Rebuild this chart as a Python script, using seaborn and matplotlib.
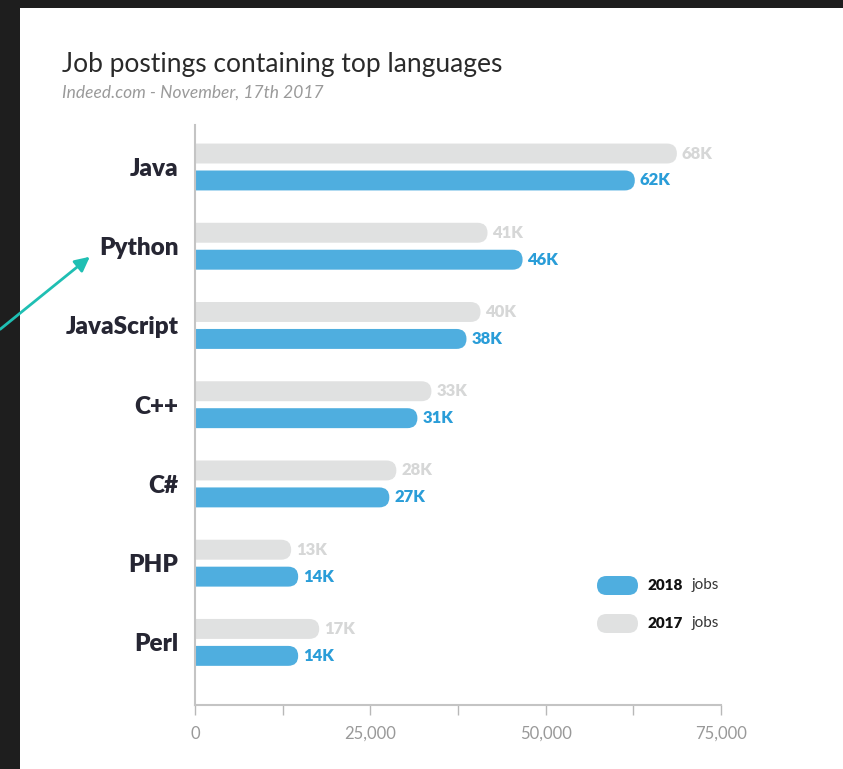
import pandas as pd
import seaborn as sns
import matplotlib.pyplot as plt
import numpy as np
from matplotlib.patches import FancyBboxPatch, Rectangle
from matplotlib.ticker import StrMethodFormatter
from matplotlib.transforms import IdentityTransform

languages = ['Java', 'Python', 'JavaScript', 'C++', 'C#', 'PHP', 'Perl']
jobs_2017 = [68000, 41000, 40000, 33000, 28000, 13000, 17000]
jobs_2018 = [62000, 46000, 38000, 31000, 27000, 14000, 14000]
years = ['2017', '2018']
x_ticks = [0, 25000, 50000, 75000]
x_minor = [12500, 37500, 62500]

BLUE = '#4faedf'
GREY = '#e0e1e1'
W, H = 843, 769

df = pd.DataFrame({
    'language': languages * 2,
    'jobs': jobs_2017 + jobs_2018,
    'year': ['2017'] * len(languages) + ['2018'] * len(languages),
})

sns.set_style('white')
plt.rcParams['font.family'] = ['Lato', 'DejaVu Sans']

fig = plt.figure(figsize=(W / 100, H / 100), dpi=100, facecolor='#1e1e1e')
# white card with the dark frame around it
fig.add_artist(Rectangle((20 / W, 0), 1, (H - 8) / H, transform=fig.transFigure,
                         facecolor='white', edgecolor='none', zorder=-10))

ax = fig.add_axes([195 / W, (H - 705) / H, 526 / W, 580 / H])
sns.barplot(data=df, y='language', x='jobs', hue='year', hue_order=years,
            palette=[GREY, BLUE], orient='h', width=0.68, gap=0.26,
            legend=False, ax=ax, saturation=1)

ax.set_xlim(0, 75000)
ax.set_ylim(6.79, -0.53)

# turn the square bars into pills (round right end)
p0 = ax.transData.transform((0, 0))
p1 = ax.transData.transform((1, 1))
sx = abs(p1[0] - p0[0])
sy = abs(p1[1] - p0[1])
for bar in list(ax.patches):
    h_px = bar.get_height() * sy
    r = (h_px / 2) / sx
    pill = FancyBboxPatch((bar.get_x() - r, bar.get_y()), bar.get_width() + r * 1.5, bar.get_height(),
                          boxstyle=f'round,pad=0,rounding_size={r}', mutation_aspect=sx / sy,
                          facecolor=bar.get_facecolor(), edgecolor='none', zorder=2)
    ax.add_patch(pill)
    pill.set_clip_path(ax.patch)
    bar.set_visible(False)

for cont, vals, col in zip(ax.containers, [jobs_2017, jobs_2018], ['#d6d7d7', '#2a9dd8']):
    ax.bar_label(cont, labels=[f'{v / 1000:.0f}K' for v in vals], padding=7,
                 color=col, fontsize=12, fontweight='heavy')

ax.set_xticks(x_ticks)
ax.set_xticks(x_minor, minor=True)
ax.xaxis.set_major_formatter(StrMethodFormatter('{x:,.0f}'))
ax.tick_params(axis='x', which='both', direction='out', length=7, width=1,
               color='#b8b8b8', labelcolor='#999999', labelsize=12, pad=8, bottom=True)
ax.tick_params(axis='y', length=0, pad=12, labelsize=17.5, labelcolor='#262633')
for lab in ax.get_yticklabels():
    lab.set_fontweight('heavy')
ax.set_xlabel('')
ax.set_ylabel('')
sns.despine(ax=ax)
for s in ['left', 'bottom']:
    ax.spines[s].set_color('#c4c4c4')
    ax.spines[s].set_linewidth(1.5)

# title and source
fig.text(62 / W, (H - 72) / H, 'Job postings containing top languages', fontsize=19,
         color='#2a2a2a', va='baseline')
fig.text(62 / W, (H - 98) / H, 'Indeed.com - November, 17th 2017', fontsize=12.5,
         color='#9a9a9a', style='italic', va='baseline')

# legend drawn by hand
for (y_top, col, yr) in [(576, BLUE, '2018'), (614, GREY, '2017')]:
    fig.add_artist(FancyBboxPatch((597, H - y_top - 19), 41, 19,
                                  boxstyle='round,pad=0,rounding_size=9.5',
                                  transform=IdentityTransform(), facecolor=col, edgecolor='none'))
    fig.text(647 / W, (H - y_top - 9.5) / H, yr, fontsize=11, fontweight='heavy',
             color='#111111', va='center')
    fig.text(692 / W, (H - y_top - 9.5) / H, 'jobs', fontsize=11, color='#333333', va='center')

# teal arrow pointing at Python
ax.annotate('', xy=(92, H - 255), xytext=(-2, H - 331), xycoords='figure pixels',
            textcoords='figure pixels', annotation_clip=False,
            arrowprops=dict(arrowstyle='-|>', color='#1fbfb3', lw=2, mutation_scale=22))

fig.savefig('out.png', dpi=100, facecolor=fig.get_facecolor())
